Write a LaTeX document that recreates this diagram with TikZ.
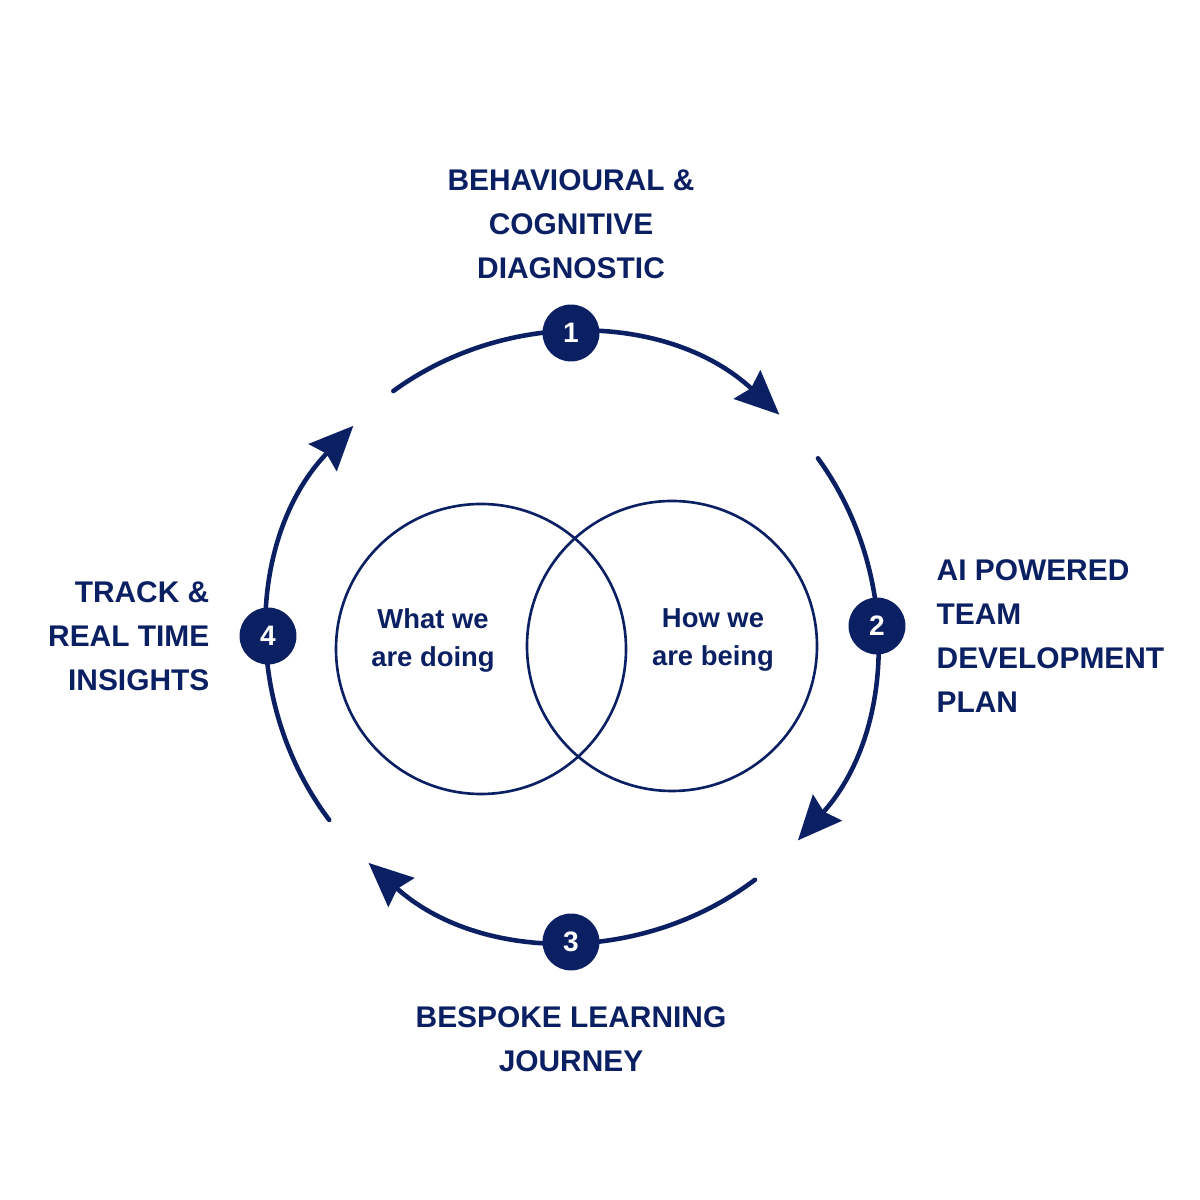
\documentclass[tikz,border=0pt]{standalone}
\usepackage{fontspec}
\setmainfont{Liberation Sans}
\usetikzlibrary{arrows.meta,calc}
\definecolor{navy}{RGB}{11,31,99}
\begin{document}
\begin{tikzpicture}[x=0.01cm,y=0.01cm,
  flow/.style={draw=navy,line width=1.3pt,line cap=round,-{Stealth[length=12.5pt,width=11pt,inset=1.5pt]}},
  badge/.style={circle,fill=navy,minimum size=16.2pt,inner sep=0pt,text=white,font=\bfseries\fontsize{8}{9}\selectfont},
  lbl/.style={text=navy,font=\bfseries\fontsize{8.5}{12.5}\selectfont,inner sep=0pt},
  venn/.style={draw=navy,line width=0.75pt},
  vtext/.style={text=navy,font=\bfseries\fontsize{7.8}{10.8}\selectfont,align=center,inner sep=0pt}]
\useasboundingbox (0,0) rectangle (1200,1200);
\coordinate (c) at (572,563);
% outer cycle arcs
\draw[flow] ($(c)+(126:304)$) arc[start angle=126,end angle=47,radius=304];
\draw[flow] ($(c)+(36:304)$) arc[start angle=36,end angle=-42,radius=304];
\draw[flow] ($(c)+(-53:304)$) arc[start angle=-53,end angle=-132,radius=304];
\draw[flow] ($(c)+(-143:304)$) arc[start angle=-143,end angle=-224,radius=304];
% badges
\node[badge] (b1) at (571,867) {1};
\node[badge] (b2) at (877,574) {2};
\node[badge] (b3) at (571,258) {3};
\node[badge] (b4) at (268,564) {4};
% venn
\draw[venn] (481,551) circle[radius=145];
\draw[venn] (672,554) circle[radius=145];
\node[vtext] (v1) at (433,560) {What we\\are doing};
\node[vtext] (v2) at (713,560) {How we\\are being};
% labels
\node[lbl,align=center] (l1) at (571,976) {BEHAVIOURAL \&\\COGNITIVE\\DIAGNOSTIC};
\node[lbl,align=left,anchor=west] (l2) at (936,564) {AI POWERED\\TEAM\\DEVELOPMENT\\PLAN};
\node[lbl,align=center] (l3) at (571,161) {BESPOKE LEARNING\\JOURNEY};
\node[lbl,align=right,anchor=east] (l4) at (210,564) {TRACK \&\\REAL TIME\\INSIGHTS};
\end{tikzpicture}
\end{document}
